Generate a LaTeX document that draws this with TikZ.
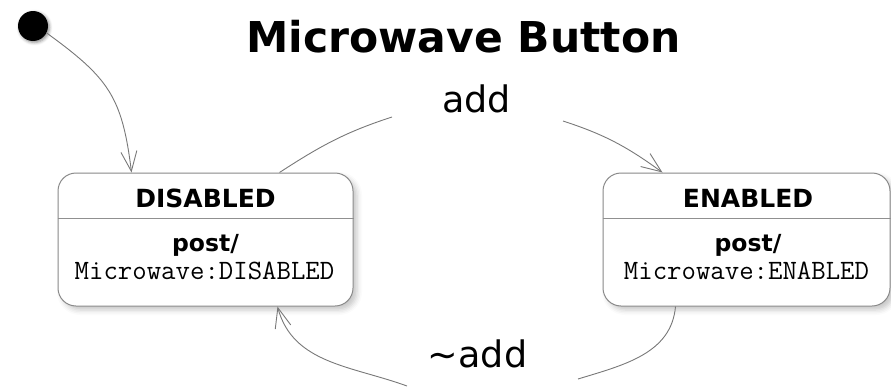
\documentclass[tikz,border=0pt]{standalone}
\usepackage{fontspec}
\setmainfont{DejaVu Sans}
\usetikzlibrary{arrows.meta,shadows.blur}

\definecolor{edgegray}{HTML}{787878}
\definecolor{boxgray}{HTML}{8A8A8A}
\definecolor{rulegray}{HTML}{909090}

\begin{document}
\begin{tikzpicture}[x=1pt,y=-1pt,
  statebox/.style={draw=boxgray, line width=1pt, fill=white, rounded corners=18pt,
    minimum height=133pt, inner sep=0pt,
    blur shadow={shadow xshift=4pt, shadow yshift=-4pt, shadow blur radius=5pt, shadow opacity=22}},
  startdot/.style={circle, fill=black, minimum size=30pt, inner sep=0pt,
    blur shadow={shadow xshift=1.5pt, shadow yshift=-1.5pt, shadow blur radius=3pt, shadow opacity=45}},
  trans/.style={draw=edgegray, line width=0.9pt},
  transarrow/.style={trans, -{Straight Barb[length=20pt, width=16pt, line width=0.9pt]}},
  sepline/.style={draw=rulegray, line width=1pt},
  txt/.style={anchor=base, inner sep=0pt},
  statename/.style={txt, font=\fontsize{25}{25}\selectfont\bfseries},
  postword/.style={txt, font=\fontsize{23.5}{23.5}\selectfont\bfseries},
  actionword/.style={txt, font=\fontsize{28}{28}\selectfont\ttfamily},
  evlabel/.style={txt, font=\fontsize{36.5}{36.5}\selectfont},
]
\useasboundingbox (0,0) rectangle (891,388);

% title
\node[txt, font=\fontsize{42.5}{42.5}\selectfont\bfseries] (title) at (463.5,52) {Microwave Button};

% initial pseudo-state
\node[startdot] (init) at (33,26) {};

% states
\node[statebox, minimum width=295pt] (dis) at (205.5,239.5) {};
\node[statebox, minimum width=287pt] (en) at (746.5,239.5) {};

\draw[sepline] ([yshift=-46pt]dis.north west) -- ([yshift=-46pt]dis.north east);
\draw[sepline] ([yshift=-46pt]en.north west) -- ([yshift=-46pt]en.north east);

\node[statename] (distitle) at (205.5,207) {DISABLED};
\node[postword] (dispost) at (205.5,251.5) {post/};
\node[actionword] (disact) at (204.5,279) {Microwave:DISABLED};

\node[statename] (entitle) at (748,207) {ENABLED};
\node[postword] (enpost) at (748,251.5) {post/};
\node[actionword] (enact) at (746.5,279) {Microwave:ENABLED};

% transition labels
\node[evlabel] (addlbl) at (476.5,112) {add};
\node[evlabel] (notaddlbl) at (477.5,367) {\textasciitilde add};

\coordinate (addL) at (392,117);
\coordinate (addR) at (563,121);
\coordinate (naddR) at (578,379);
\coordinate (naddL) at (407,386);

% initial transition
\draw[transarrow] (init.-27) to[out=-36, in=97, looseness=1.2] ([xshift=74pt]dis.north west);

% DISABLED -> ENABLED on add
\draw[trans] ([xshift=222pt]dis.north west) to[out=33, in=-162] (addL);
\draw[transarrow] (addR) to[out=-18, in=144] ([xshift=60pt]en.north west);

% ENABLED -> DISABLED on ~add
\draw[trans] ([xshift=73pt]en.south west) to[out=-95, in=17] (naddR);
\draw[transarrow] (naddL) to[out=160, in=-75] ([xshift=220pt]dis.south west);
\end{tikzpicture}
\end{document}
